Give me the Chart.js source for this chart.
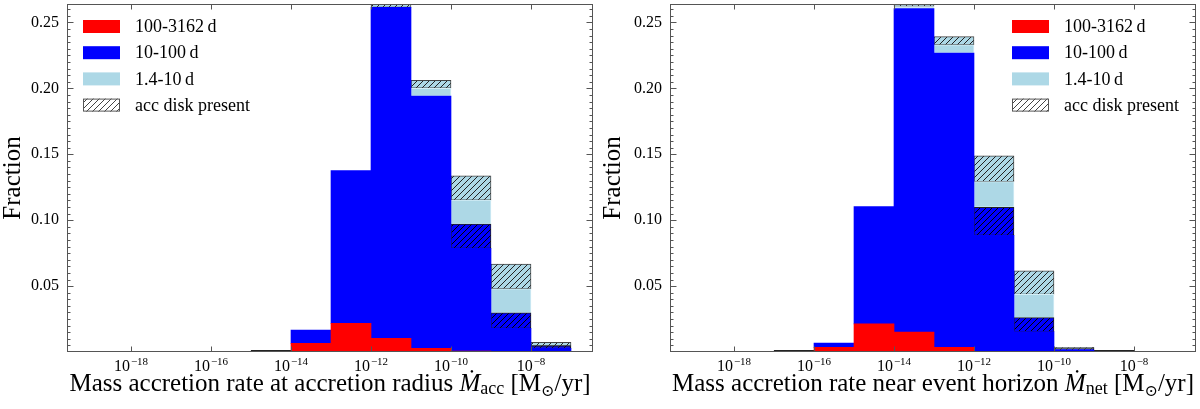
<!DOCTYPE html>
<html>
<head>
<meta charset="utf-8">
<script src="https://cdn.jsdelivr.net/npm/chart.js@4.4.1/dist/chart.umd.min.js"></script>
<style>
  html, body { margin: 0; padding: 0; background: #fff; }
  #wrap { display: flex; width: 1200px; height: 409px; }
  canvas { display: block; }
</style>
</head>
<body>
<div id="wrap">
  <canvas id="left" width="600" height="409"></canvas>
  <canvas id="right" width="600" height="409"></canvas>
</div>
<script>
const SERIF = "'Liberation Serif', 'DejaVu Serif', serif";

// left panel: accretion rate at accretion radius, bins are log10 centres
let accBins = [-14.5, -13.5, -12.5, -11.5, -10.5, -9.5, -8.5, -7.5];
let accLong = [0, 0.0065, 0.0217, 0.0103, 0.0027, 0.0007, 0, 0];
let accMid = [0, 0.0102, 0.116, 0.2511, 0.1914, 0.0779, 0.0179, 0.0027];
let accMidDisk = [0.0012, 0, 0, 0, 0, 0.0184, 0.0118, 0.002];
let accShort = [0, 0, 0, 0, 0.006, 0.0182, 0.0182, 0];
let accShortDisk = [0, 0, 0, 0.004, 0.006, 0.0185, 0.0188, 0.0026];

// right panel: accretion rate near the event horizon
let netBins = [-16.5, -15.5, -14.5, -13.5, -12.5, -11.5, -10.5, -9.5, -8.5];
let netLong = [0, 0.0035, 0.0213, 0.0151, 0.0035, 0.0005, 0, 0, 0];
let netMid = [0, 0.0033, 0.089, 0.2455, 0.2232, 0.088, 0.0155, 0.0015, 0];
let netMidDisk = [0.0012, 0, 0, 0, 0, 0.0213, 0.0106, 0.001, 0.0012];
let netShort = [0, 0, 0, 0.0015, 0.0063, 0.0194, 0.0176, 0, 0];
let netShortDisk = [0, 0, 0, 0.003, 0.0063, 0.0196, 0.0178, 0.001, 0];

let legendLabels = ['100-3162\u2009d', '10-100\u2009d', '1.4-10\u2009d', 'acc disk present'];
let xTickExps = [-18, -16, -14, -12, -10, -8];
let yTickValues = [0.05, 0.10, 0.15, 0.20, 0.25];

const RED = '#ff0000', BLUE = '#0000ff', LIGHT = '#add8e6';

// diagonal "///" hatch
function hatch(bg, line) {
  let c = document.createElement('canvas');
  c.width = 6; c.height = 6;
  let g = c.getContext('2d');
  if (bg) { g.fillStyle = bg; g.fillRect(0, 0, 6, 6); }
  g.strokeStyle = line;
  g.lineWidth = 1;
  g.beginPath();
  g.moveTo(0, 6); g.lineTo(6, 0);
  g.moveTo(-1, 1); g.lineTo(1, -1);
  g.moveTo(5, 7); g.lineTo(7, 5);
  g.stroke();
  return g.createPattern(c, 'repeat');
}

function points(bins, vals) {
  return bins.map((b, i) => ({ x: Math.pow(10, b), y: vals[i] || null }));
}

function supText(n) {
  return (n < 0 ? '\u2212' : '') + Math.abs(n);
}

// frame, inward ticks, tick labels, legend and x title
const decorPlugin = {
  id: 'decor',
  afterDatasetsDraw(chart) {
    const { ctx, chartArea: a, scales: { x, y } } = chart;
    const L = Math.round(a.left) + 0.5, R = Math.round(a.right) - 0.5;
    const T = Math.round(a.top) + 0.5, B = Math.round(a.bottom) - 0.5;
    ctx.save();
    ctx.strokeStyle = '#555';
    ctx.lineWidth = 1;
    ctx.beginPath();
    for (let i = 1; i * 0.005 < y.max; i++) {
      let py = Math.round(y.getPixelForValue(i * 0.005)) + 0.5;
      let len = i % 10 === 0 ? 6 : 3;
      ctx.moveTo(L, py); ctx.lineTo(L + len, py);
      ctx.moveTo(R, py); ctx.lineTo(R - len, py);
    }
    x.ticks.forEach(t => {
      let px = Math.round(x.getPixelForValue(t.value)) + 0.5;
      ctx.moveTo(px, B); ctx.lineTo(px, B - 5);
      ctx.moveTo(px, T); ctx.lineTo(px, T + 5);
    });
    ctx.stroke();
    ctx.strokeRect(L, T, R - L, B - T);

    // x tick labels 10^n
    ctx.fillStyle = '#000';
    ctx.textBaseline = 'alphabetic';
    ctx.textAlign = 'left';
    x.ticks.forEach(t => {
      let e = Math.round(Math.log10(t.value));
      ctx.font = '16px ' + SERIF;
      let w1 = ctx.measureText('10').width;
      ctx.font = '11px ' + SERIF;
      let w2 = ctx.measureText(supText(e)).width;
      let sx = x.getPixelForValue(t.value) - (w1 + w2 + 1) / 2;
      ctx.font = '16px ' + SERIF;
      ctx.fillText('10', sx, 371);
      ctx.font = '11px ' + SERIF;
      ctx.fillText(supText(e), sx + w1 + 1, 365);
    });
    ctx.restore();
  },
  afterDraw(chart) {
    const { ctx, chartArea: a } = chart;
    const opts = chart.options.plugins.decor;
    ctx.save();
    // legend
    const fills = [RED, BLUE, LIGHT, hatch('#ffffff', '#444')];
    legendLabels.forEach((lab, i) => {
      let bx = opts.legendX, by = 20 + i * 26.2;
      ctx.fillStyle = fills[i];
      ctx.fillRect(bx, by, 37, 13);
      if (i === 3) {
        ctx.strokeStyle = '#555';
        ctx.lineWidth = 1;
        ctx.strokeRect(bx + 0.5, by + 0.5, 36, 12);
      }
      ctx.fillStyle = '#000';
      ctx.font = '18px ' + SERIF;
      ctx.textAlign = 'left';
      ctx.textBaseline = 'middle';
      ctx.fillText(lab, bx + 52, by + 7.5);
    });

    // x axis title with dot, subscripts and sun symbol
    const pieces = opts.xTitle;
    ctx.textBaseline = 'alphabetic';
    let total = 0;
    pieces.forEach(p => { ctx.font = p.font; p.w = ctx.measureText(p.text).width; total += p.w; });
    let px = (a.left + a.right) / 2 - total / 2;
    ctx.fillStyle = '#000';
    pieces.forEach(p => {
      ctx.font = p.font;
      ctx.fillText(p.text, px, 391 + (p.dy || 0));
      px += p.w;
    });
    ctx.restore();
  }
};

function titlePieces(before, sub) {
  return [
    { text: before, font: '25px ' + SERIF },
    { text: '\u1E40', font: 'italic 25px ' + SERIF },
    { text: sub, font: '18px ' + SERIF, dy: 3 },
    { text: ' [M', font: '25px ' + SERIF },
    { text: '\u2299', font: '16px ' + SERIF, dy: 5 },
    { text: '/yr]', font: '25px ' + SERIF }
  ];
}

function makeChart(id, bins, long, mid, midDisk, short, shortDisk, yWidth, padRight, legendX, xTitle) {
  const hatchBlue = hatch(BLUE, '#000');
  const hatchLight = hatch(LIGHT, '#222');
  return new Chart(document.getElementById(id), {
    type: 'bar',
    data: {
      datasets: [
        { label: '100-3162 d', data: points(bins, long), backgroundColor: RED, borderWidth: 0 },
        { label: '10-100 d', data: points(bins, mid), backgroundColor: BLUE, borderWidth: 0 },
        { label: '10-100 d disk', data: points(bins, midDisk), backgroundColor: hatchBlue,
          borderColor: '#222', borderWidth: 1, borderSkipped: false },
        { label: '1.4-10 d', data: points(bins, short), backgroundColor: LIGHT,
          borderColor: '#d4eef6', borderWidth: 1, borderSkipped: false },
        { label: '1.4-10 d disk', data: points(bins, shortDisk), backgroundColor: hatchLight,
          borderColor: '#444', borderWidth: 1, borderSkipped: false }
      ]
    },
    options: {
      responsive: false,
      animation: false,
      devicePixelRatio: 1,
      barPercentage: 1,
      categoryPercentage: 1,
      layout: { padding: { left: 0, right: padRight, top: 4, bottom: 0 } },
      plugins: {
        legend: { display: false },
        tooltip: { enabled: false },
        decor: { legendX: legendX, xTitle: xTitle }
      },
      scales: {
        x: {
          type: 'logarithmic',
          stacked: true,
          min: Math.pow(10, -19.6),
          max: Math.pow(10, -6.45),
          grid: { display: false },
          border: { display: false },
          ticks: { display: false },
          afterBuildTicks: s => { s.ticks = xTickExps.map(e => ({ value: Math.pow(10, e) })); },
          afterFit: s => { s.height = 57; s.paddingLeft = 0; s.paddingRight = 0; }
        },
        y: {
          stacked: true,
          min: 0,
          max: 0.264,
          grid: { display: false, drawTicks: false },
          border: { display: false },
          ticks: {
            padding: 8,
            color: '#000',
            font: { family: SERIF, size: 16 },
            callback: v => v.toFixed(2)
          },
          afterBuildTicks: s => { s.ticks = yTickValues.map(v => ({ value: v })); },
          afterFit: s => { s.width = yWidth; s.paddingTop = 0; s.paddingBottom = 0; },
          title: {
            display: true,
            text: 'Fraction',
            color: '#000',
            font: { family: SERIF, size: 25, lineHeight: 1 },
            padding: { top: 1, bottom: 0 }
          }
        }
      }
    },
    plugins: [decorPlugin]
  });
}

makeChart('left', accBins, accLong, accMid, accMidDisk, accShort, accShortDisk, 67, 7, 83,
  titlePieces('Mass accretion rate at accretion radius ', 'acc'));
makeChart('right', netBins, netLong, netMid, netMidDisk, netShort, netShortDisk, 70, 4, 412,
  titlePieces('Mass accretion rate near event horizon ', 'net'));
</script>
</body>
</html>
